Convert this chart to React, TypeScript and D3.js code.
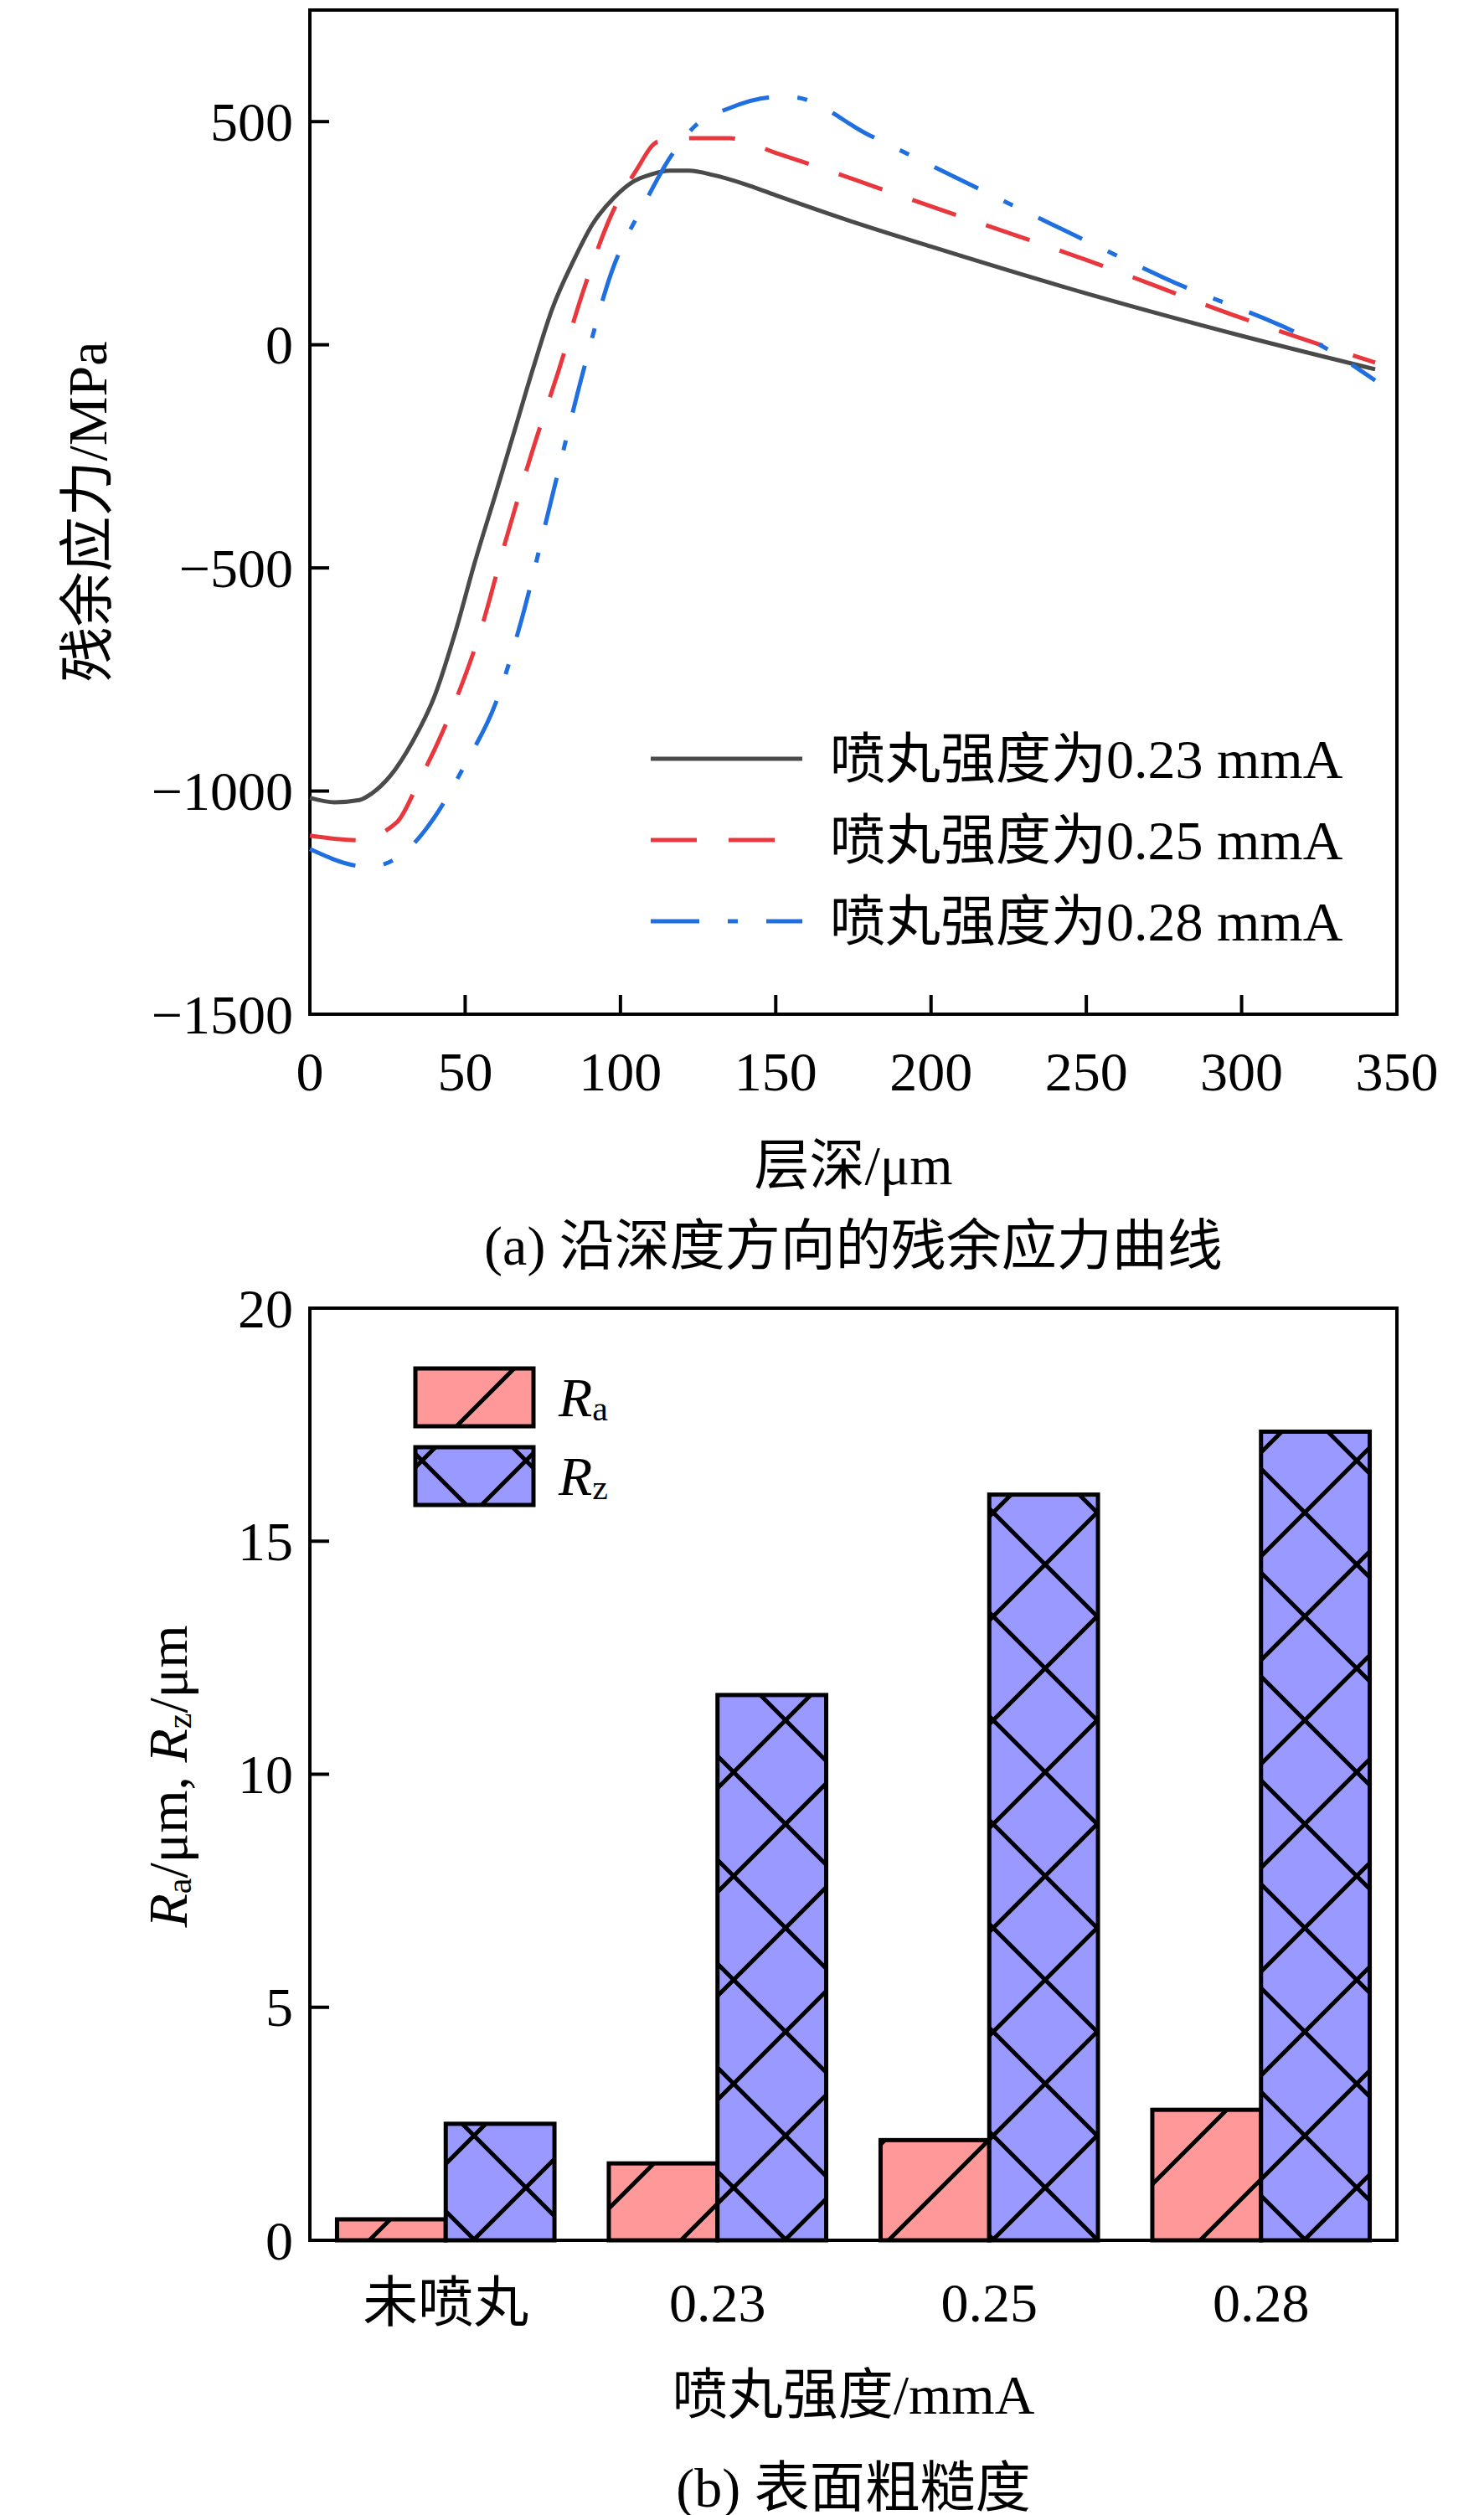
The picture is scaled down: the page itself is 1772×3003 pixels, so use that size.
import React from "react";
import * as d3 from "d3";

const depth23 = [0, 8, 16, 20, 26, 33, 40, 47, 53, 60, 66, 72, 78, 85, 91, 98, 104, 110, 116, 122, 130, 140, 150, 175, 200, 250, 300, 343];
const stress23 = [-1015, -1025, -1020, -1005, -965, -890, -790, -640, -490, -330, -190, -50, 80, 190, 270, 330, 365, 382, 390, 390, 380, 360, 335, 275, 220, 115, 20, -55];
const depth25 = [0, 15, 28, 35, 45, 55, 63, 72, 80, 88, 97, 105, 112, 120, 135, 150, 200, 250, 300, 343];
const stress25 = [-1100, -1110, -1070, -980, -830, -640, -440, -230, -60, 120, 290, 390, 455, 463, 463, 430, 310, 190, 60, -40];
const depth28 = [0, 19, 30, 40, 50, 60, 68, 78, 88, 97, 108, 116, 124, 135, 150, 155, 180, 230, 275, 330, 343];
const stress28 = [-1130, -1170, -1140, -1060, -940, -800, -620, -340, -60, 160, 320, 420, 490, 530, 555, 555, 470, 300, 150, -20, -80];
const seriesLabels = ["喷丸强度为0.23 mmA", "喷丸强度为0.25 mmA", "喷丸强度为0.28 mmA"];
const xTicksA = [0, 50, 100, 150, 200, 250, 300, 350];
const yTicksA = [-1500, -1000, -500, 0, 500];

const categories = ["未喷丸", "0.23", "0.25", "0.28"];
const raValues = [0.45, 1.65, 2.15, 2.8];
const rzValues = [2.5, 11.7, 16.0, 17.35];
const yTicksB = [0, 5, 10, 15, 20];

const serif = "'Liberation Serif', 'Times New Roman', 'Noto Sans CJK SC', serif";
const FS = 66;

export default function App() {
  const L = 362, R = 1660;
  const xA = d3.scaleLinear().domain([0, 350]).range([L, R]);
  const yA = d3.scaleLinear().domain([-1500, 750]).range([1203, 4]);
  const line = d3.line<[number, number]>().x(d => xA(d[0])).y(d => yA(d[1])).curve(d3.curveMonotoneX);
  const series = [
    { d: depth23.map((x, i) => [x, stress23[i]] as [number, number]), color: "#4a4a4a", dash: "" },
    { d: depth25.map((x, i) => [x, stress25[i]] as [number, number]), color: "#e8383d", dash: "55 38" },
    { d: depth28.map((x, i) => [x, stress28[i]] as [number, number]), color: "#1f6fe0", dash: "58 34 12 34" },
  ];

  const xB = d3.scaleBand().domain(categories).range([L, R]).paddingInner(0).paddingOuter(0);
  const yB = d3.scaleLinear().domain([0, 20]).range([2667, 1554]);
  const bw = xB.bandwidth() * 0.4;

  return (
    <svg width={1772} height={3003} style={{ display: "block", background: "#fff" }} fontFamily={serif}>
      <defs>
        <pattern id="pa" patternUnits="userSpaceOnUse" width={124} height={124}>
          <rect width={124} height={124} fill="#ff9999" />
          <path d="M-10,134 L134,-10 M-72,72 L72,-72 M52,196 L196,52" stroke="#000" strokeWidth={5} />
        </pattern>
        <pattern id="pz" patternUnits="userSpaceOnUse" width={124} height={124}>
          <rect width={124} height={124} fill="#9999ff" />
          <path d="M-10,134 L134,-10 M-72,72 L72,-72 M52,196 L196,52 M-10,-10 L134,134 M-72,52 L72,196 M52,-72 L196,72" stroke="#000" strokeWidth={5} />
        </pattern>
      </defs>

      {/* Panel a */}
      <rect x={L} y={4} width={R - L} height={1199} fill="none" stroke="#000" strokeWidth={4} />
      {xTicksA.map(t => (
        <g key={t}>
          <line x1={xA(t)} x2={xA(t)} y1={1203} y2={1180} stroke="#000" strokeWidth={4} />
          <text x={xA(t)} y={1271} fontSize={FS} textAnchor="middle" dominantBaseline="central">{t}</text>
        </g>
      ))}
      {yTicksA.map(t => (
        <g key={t}>
          <line x1={L} x2={L + 23} y1={yA(t)} y2={yA(t)} stroke="#000" strokeWidth={4} />
          <text x={L - 20} y={yA(t)} fontSize={FS} textAnchor="end" dominantBaseline="central">{t < 0 ? "−" + Math.abs(t) : t}</text>
        </g>
      ))}
      {series.map((s, i) => (
        <path key={i} d={line(s.d) || ""} fill="none" stroke={s.color} strokeWidth={5} strokeDasharray={s.dash} />
      ))}
      {series.map((s, i) => (
        <g key={i}>
          <line x1={769} x2={950} y1={898 + i * 97} y2={898 + i * 97} stroke={s.color} strokeWidth={5} strokeDasharray={s.dash} />
          <text x={983} y={898 + i * 97} fontSize={FS} dominantBaseline="central">{seriesLabels[i]}</text>
        </g>
      ))}
      <text transform="translate(96,603) rotate(-90)" fontSize={FS} textAnchor="middle" dominantBaseline="central">残余应力/MPa</text>
      <text x={1011} y={1383} fontSize={FS} textAnchor="middle" dominantBaseline="central">层深/μm</text>
      <text x={1011} y={1479} fontSize={FS} textAnchor="middle" dominantBaseline="central">(a) 沿深度方向的残余应力曲线</text>

      {/* Panel b */}
      {categories.map((c, i) => {
        const x0 = (xB(c) as number) + xB.bandwidth() * 0.1;
        return (
          <g key={c}>
            <rect x={x0} y={yB(raValues[i])} width={bw} height={yB(0) - yB(raValues[i])} fill="url(#pa)" stroke="#000" strokeWidth={5} />
            <rect x={x0 + bw} y={yB(rzValues[i])} width={bw} height={yB(0) - yB(rzValues[i])} fill="url(#pz)" stroke="#000" strokeWidth={5} />
            <text x={(xB(c) as number) + xB.bandwidth() / 2} y={2741} fontSize={FS} textAnchor="middle" dominantBaseline="central">{c}</text>
          </g>
        );
      })}
      <rect x={L} y={1554} width={R - L} height={1113} fill="none" stroke="#000" strokeWidth={4} />
      {yTicksB.map(t => (
        <g key={t}>
          <line x1={L} x2={L + 23} y1={yB(t)} y2={yB(t)} stroke="#000" strokeWidth={4} />
          <text x={L - 20} y={yB(t)} fontSize={FS} textAnchor="end" dominantBaseline="central">{t}</text>
        </g>
      ))}
      <rect x={488} y={1626} width={141} height={69} fill="url(#pa)" stroke="#000" strokeWidth={5} />
      <rect x={488} y={1720} width={141} height={69} fill="url(#pz)" stroke="#000" strokeWidth={5} />
      <text x={659} y={1660} fontSize={FS} dominantBaseline="central"><tspan fontStyle="italic">R</tspan><tspan fontSize={42} dy={14}>a</tspan></text>
      <text x={659} y={1754} fontSize={FS} dominantBaseline="central"><tspan fontStyle="italic">R</tspan><tspan fontSize={42} dy={14}>z</tspan></text>
      <text transform="translate(192,2113) rotate(-90)" fontSize={FS} textAnchor="middle" dominantBaseline="central">
        <tspan fontStyle="italic">R</tspan><tspan fontSize={42} dy={14}>a</tspan><tspan dy={-14}>/μm, </tspan>
        <tspan fontStyle="italic">R</tspan><tspan fontSize={42} dy={14}>z</tspan><tspan dy={-14}>/μm</tspan>
      </text>
      <text x={1011} y={2851} fontSize={FS} textAnchor="middle" dominantBaseline="central">喷丸强度/mmA</text>
      <text x={1011} y={2962} fontSize={FS} textAnchor="middle" dominantBaseline="central">(b) 表面粗糙度</text>
    </svg>
  );
}
